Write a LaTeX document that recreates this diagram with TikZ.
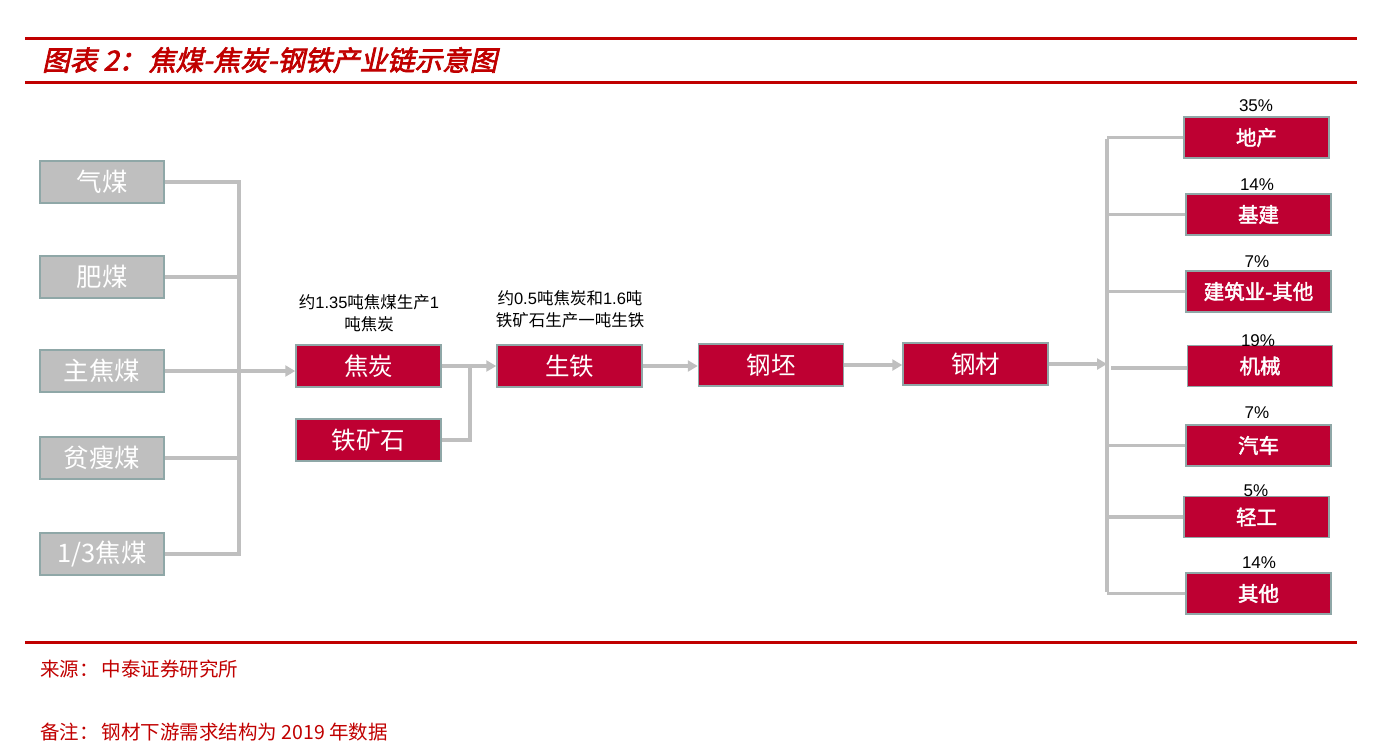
\documentclass[tikz,border=0pt]{standalone}
\usepackage{fontspec}
\setmainfont{Noto Sans CJK SC}
\newfontfamily\cjk{Noto Sans CJK SC}
\newfontfamily\cjkbold{Noto Sans CJK SC}[FakeBold=2]
\newfontfamily\cjktitle{Noto Sans CJK SC}[FakeSlant=0.22,FakeBold=2.5]
\newfontfamily\lsans{Liberation Sans}
\usetikzlibrary{arrows.meta}
\definecolor{hdred}{HTML}{C00000}
\definecolor{boxred}{HTML}{BE0032}
\definecolor{boxgrey}{HTML}{BFBFBF}
\definecolor{edgegrey}{HTML}{8FA7A7}
\definecolor{linegrey}{HTML}{BFBFBF}
\tikzset{
  greybox/.style={draw=edgegrey, line width=1.5pt, fill=boxgrey, minimum width=124pt, minimum height=42pt, inner sep=0pt, text=white, font=\cjk\fontsize{25.5}{27}\selectfont},
  redbox/.style={draw=edgegrey, line width=1.5pt, fill=boxred, minimum width=145pt, minimum height=42pt, inner sep=0pt, text=white, font=\cjk\fontsize{24.5}{26}\selectfont},
  endbox/.style={draw=edgegrey, line width=1.5pt, fill=boxred, minimum width=145pt, minimum height=41pt, inner sep=0pt, text=white, font=\cjkbold\fontsize{20.5}{22}\selectfont},
  pct/.style={font=\lsans\fontsize{17}{19}\selectfont, text=black, inner sep=0pt},
  note/.style={font=\cjk\fontsize{16.5}{22}\selectfont, text=black, align=center, inner sep=0pt},
  conn/.style={draw=linegrey, line width=3.2pt},
  arr/.style={conn, -{Triangle[length=10pt,width=11pt]}},
  rule/.style={draw=hdred, line width=3pt},
}
\begin{document}
\begin{tikzpicture}[x=1pt,y=-1pt]
\useasboundingbox (0,0) rectangle (1380,747);
% header and footer rules
\draw[rule] (25,38) -- (1357,38);
\draw[rule] (25,82) -- (1357,82);
\draw[rule] (25,642) -- (1357,642);
\node[anchor=west, inner sep=0pt, text=hdred, font=\cjktitle\fontsize{27.5}{29}\selectfont] (title) at (42,60) {图表 2：\hspace{2pt}焦煤-焦炭-钢铁产业链示意图};
\node[anchor=west, inner sep=0pt, text=hdred, font=\cjk\fontsize{19.5}{22}\selectfont] (src) at (40,669) {来源：\hspace{3pt}中泰证券研究所};
\node[anchor=west, inner sep=0pt, text=hdred, font=\cjk\fontsize{19.5}{22}\selectfont] (rem) at (40,732) {备注：\hspace{3pt}钢材下游需求结构为 2019 年数据};
% coal types
\node[greybox] (qm) at (102,182) {气煤};
\node[greybox] (fm) at (102,277) {肥煤};
\node[greybox] (zjm) at (102,371) {主焦煤};
\node[greybox] (psm) at (102,458) {贫瘦煤};
\node[greybox] (sjm) at (102,554) {1/3焦煤};
% chain
\node[redbox] (jt) at (368.5,366) {焦炭};
\node[redbox] (tks) at (368.5,440) {铁矿石};
\node[redbox] (st) at (569.5,366) {生铁};
\node[redbox] (gp) at (771,365) {钢坯};
\node[redbox] (gc) at (975.5,364) {钢材};
\node[note] (n1) at (369,313) {约{\lsans 1.35}吨焦煤生产{\lsans 1}\\吨焦炭};
\node[note] (n2) at (570,309) {约{\lsans 0.5}吨焦炭和{\lsans 1.6}吨\\铁矿石生产一吨生铁};
% end uses
\node[endbox] (dc) at (1256.5,137.5) {地产};
\node[endbox] (jj) at (1258.5,214.5) {基建};
\node[endbox] (jzy) at (1258.5,291.5) {建筑业-其他};
\node[endbox] (jx) at (1260,366) {机械};
\node[endbox] (qc) at (1258.5,445.5) {汽车};
\node[endbox] (qg) at (1256.5,517) {轻工};
\node[endbox] (qt) at (1258.5,593.5) {其他};
\node[pct] (p1) at (1256,106) {35\%};
\node[pct] (p2) at (1257,185) {14\%};
\node[pct] (p3) at (1257,262) {7\%};
\node[pct] (p4) at (1258,341) {19\%};
\node[pct] (p5) at (1257,413) {7\%};
\node[pct] (p6) at (1256,491) {5\%};
\node[pct] (p7) at (1259,563) {14\%};
% left bus
\coordinate (lb) at (239,0);
\draw[conn] (qm.east) -- (qm.east -| lb);
\draw[conn] (fm.east) -- (fm.east -| lb);
\draw[conn] (psm.east) -- (psm.east -| lb);
\draw[conn] (sjm.east) -- (sjm.east -| lb);
\draw[conn] ([yshift=1.6pt]qm.east -| lb) -- ([yshift=-1.6pt]sjm.east -| lb);
\draw[arr] (zjm.east) -- (zjm.east -| jt.west);
% middle
\coordinate (mj) at (470,366);
\draw[conn] (tks.east) -| (mj);
\draw[arr] (jt.east) -- (st.west);
\draw[arr] (st.east) -- (st.east -| gp.west);
\draw[arr] (gp.east) -- (gp.east -| gc.west);
% right bus
\coordinate (rb) at (1107,0);
\draw[arr] (gc.east) -- (gc.east -| rb);
\draw[conn] ([yshift=-1.6pt]dc.west -| rb) -- ([yshift=1.6pt]qt.west -| rb);
\draw[conn] (dc.west) -- (dc.west -| rb);
\draw[conn] (jj.west) -- (jj.west -| rb);
\draw[conn] (jzy.west) -- (jzy.west -| rb);
\draw[conn] ([yshift=-2pt]jx.west) -- ([yshift=-2pt,xshift=4pt]jx.west -| rb);
\draw[conn] (qc.west) -- (qc.west -| rb);
\draw[conn] (qg.west) -- (qg.west -| rb);
\draw[conn] (qt.west) -- (qt.west -| rb);
\end{tikzpicture}
\end{document}
